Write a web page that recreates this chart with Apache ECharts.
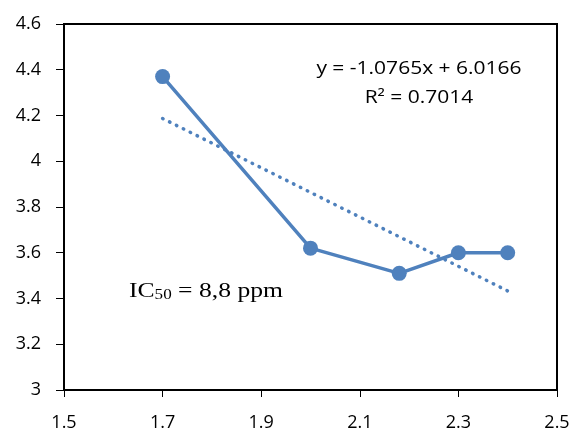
<!DOCTYPE html>
<html><head><meta charset="utf-8">
<script src="https://cdn.jsdelivr.net/npm/echarts@6/dist/echarts.min.js"></script>
<style>html,body{margin:0;padding:0;background:#fff}#c{width:573px;height:432px}</style>
</head><body><div id="c"></div>
<script>
const xValues = [1.7, 2.0, 2.18, 2.3, 2.4];
const yValues = [4.37, 3.62, 3.51, 3.60, 3.60];
const trendX = [1.7, 2.4];
const trendY = [4.187, 3.433];
const equationText = 'y = -1.0765x + 6.0166';
const r2Text = 'R² = 0.7014';
const xTicks = [1.5, 1.7, 1.9, 2.1, 2.3, 2.5];
const yTicks = [3, 3.2, 3.4, 3.6, 3.8, 4, 4.2, 4.4, 4.6];

const blue = '#4F81BD';
const chart = echarts.init(document.getElementById('c'), null, {renderer: 'canvas'});
const lbl = {color: '#000', fontFamily: '"Open Sans", Lato, sans-serif', fontSize: 18};
chart.setOption({
  animation: false,
  grid: {left: 64, right: 16, top: 24, bottom: 41, show: true, borderColor: '#000', borderWidth: 2},
  xAxis: {
    type: 'value', min: 1.5, max: 2.5, interval: 0.2,
    axisLine: {show: true, lineStyle: {color: '#000', width: 2}},
    axisTick: {show: true, inside: false, length: 7, lineStyle: {color: '#000', width: 1}},
    splitLine: {show: false},
    axisLabel: Object.assign({margin: 24, formatter: v => {
      const t = xTicks.find(k => Math.abs(k - v) < 1e-6); return t === undefined ? '' : String(t);
    }}, lbl)
  },
  yAxis: {
    type: 'value', min: 3, max: 4.6, interval: 0.2,
    axisLine: {show: true, lineStyle: {color: '#000', width: 2}},
    axisTick: {show: true, inside: false, length: 8, lineStyle: {color: '#000', width: 1}},
    splitLine: {show: false},
    axisLabel: Object.assign({margin: 23, formatter: v => {
      const t = yTicks.find(k => Math.abs(k - v) < 1e-6); return t === undefined ? '' : String(t);
    }}, lbl)
  },
  series: [
    {
      type: 'line', data: trendX.map((x, i) => [x, trendY[i]]),
      symbol: 'none', lineStyle: {color: blue, width: 3.5, type: [0.5, 7.2], cap: 'round'}, z: 2
    },
    {
      type: 'line', data: xValues.map((x, i) => [x, yValues[i]]),
      symbol: 'circle', symbolSize: 15,
      itemStyle: {color: blue}, lineStyle: {color: blue, width: 3.5}, z: 3
    }
  ],
  graphic: [
    {type: 'text', x: 419, y: 69, scaleX: 1.2, style: {text: equationText, font: '17.5px "Open Sans", Lato, sans-serif', fill: '#000', align: 'center', verticalAlign: 'middle'}},
    {type: 'text', x: 419, y: 98, scaleX: 1.2, style: {text: r2Text, font: '17.5px "Open Sans", Lato, sans-serif', fill: '#000', align: 'center', verticalAlign: 'middle'}},
    {type: 'text', x: 129, y: 302, scaleX: 1.22, style: {
      text: '{a|IC}{b|50}{a| = 8,8 ppm}',
      verticalAlign: 'bottom',
      rich: {
        a: {fontFamily: '"Liberation Serif", serif', fontSize: 21, color: '#000', verticalAlign: 'bottom'},
        b: {fontFamily: '"Liberation Serif", serif', fontSize: 14, color: '#000', verticalAlign: 'bottom'}
      }
    }}
  ]
});
</script></body></html>
